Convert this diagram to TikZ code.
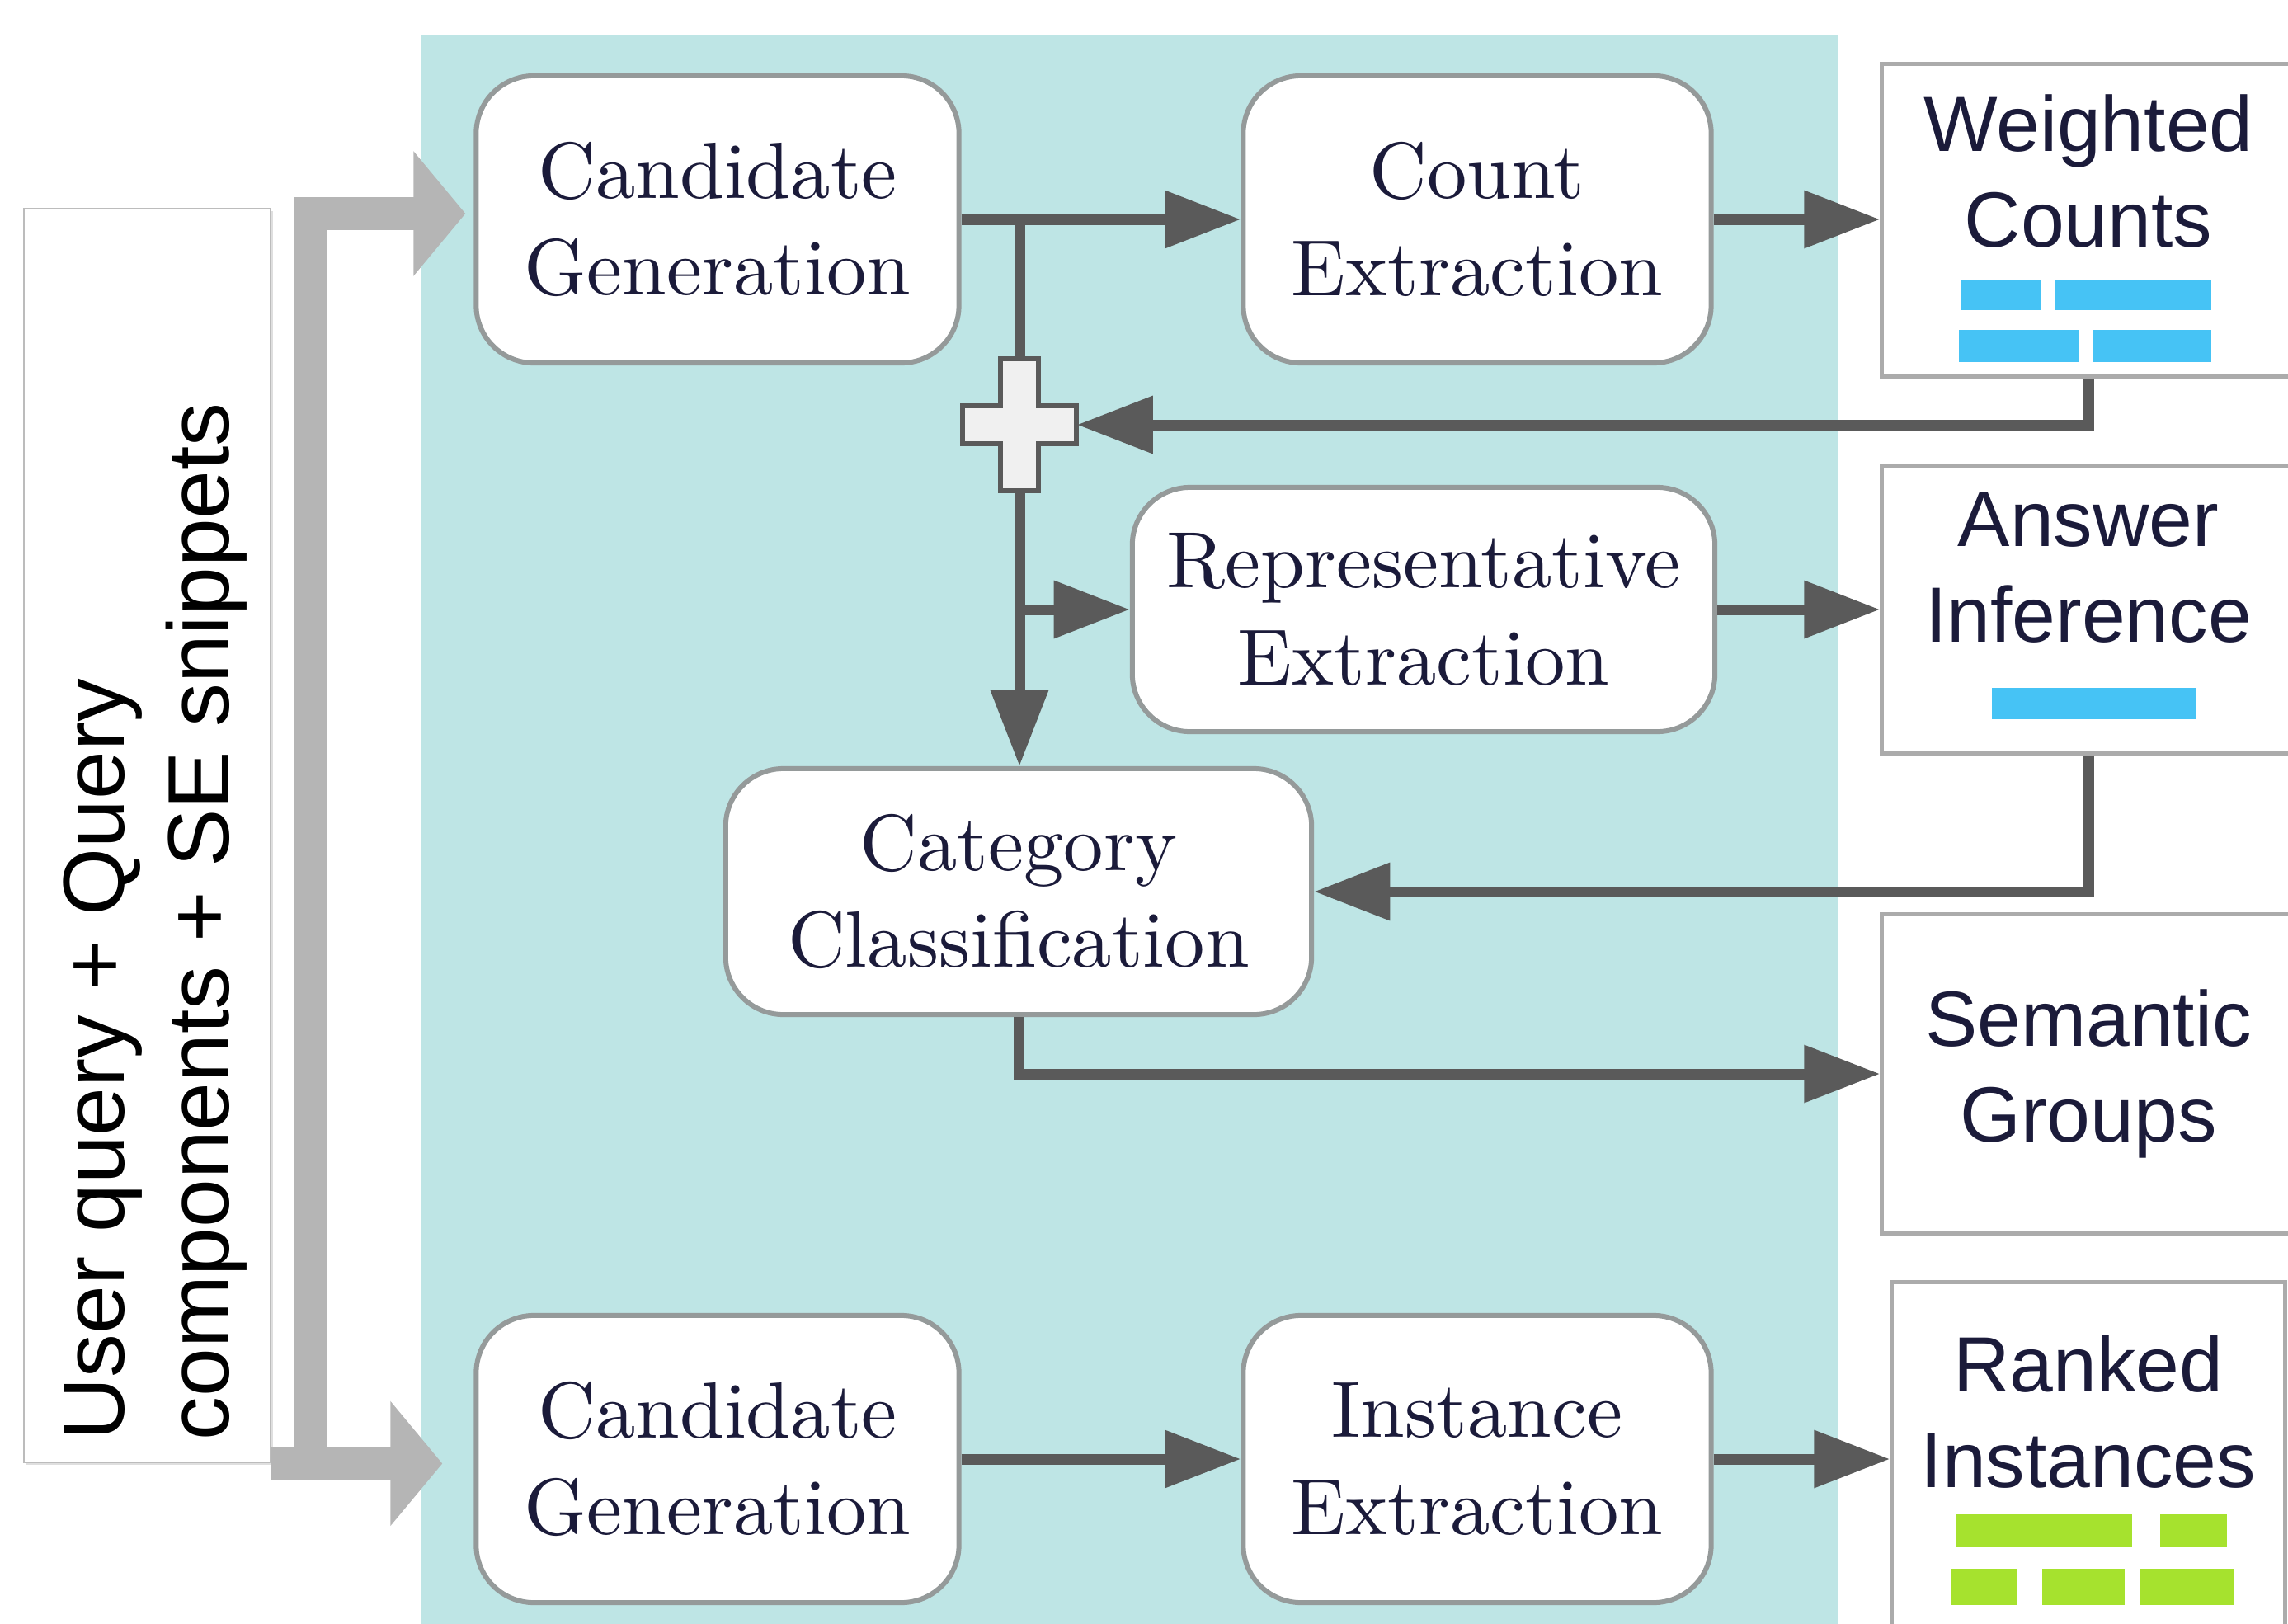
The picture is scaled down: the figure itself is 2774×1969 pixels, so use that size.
\documentclass[tikz,border=0pt]{standalone}
\usepackage{fontspec}
\newfontfamily\arialfont{Liberation Sans}
\newfontfamily\stepfont{lmroman10-regular.otf}
\usetikzlibrary{arrows.meta,shadows}
\definecolor{panel}{HTML}{BEE5E5}
\definecolor{ink}{HTML}{1B1B3A}
\definecolor{wiregray}{HTML}{5A5A5A}
\definecolor{feedgray}{HTML}{B5B5B5}
\definecolor{boxline}{HTML}{959A9A}
\definecolor{outline}{HTML}{ABABAB}
\definecolor{countblue}{HTML}{46C3F5}
\definecolor{rankgreen}{HTML}{A6E22E}
\begin{document}
\begin{tikzpicture}[x=0.01cm,y=-0.01cm,
  >={Triangle[length=0.92cm,width=0.67cm]},
  proc/.style={draw=boxline,line width=0.06cm,fill=white,rounded corners=0.7cm,
    align=center,text=ink,font=\stepfont\fontsize{27.5}{33.5}\selectfont,inner sep=0pt},
  result/.style={draw=outline,line width=0.05cm,fill=white,minimum width=5cm,inner sep=0pt},
  restext/.style={align=center,text=ink,font=\arialfont\fontsize{27}{33}\selectfont,inner sep=0pt},
  wire/.style={draw=wiregray,line width=0.13cm,->},
  feed/.style={draw=feedgray,line width=0.4cm,-{Triangle[length=0.63cm,width=1.48cm]}},
  plussign/.style={draw=wiregray,fill=gray!12,line width=0.06cm}]
  \useasboundingbox (0,0) rectangle (2774,1969);
  \fill[panel] (511,42) rectangle (2229,2000);

  % input
  \node[draw=outline!80,line width=0.02cm,fill=white,minimum width=2.99cm,minimum height=15.2cm,
    drop shadow={shadow xshift=0.03cm,shadow yshift=-0.03cm,opacity=0.25}] (input) at (178.5,1013) {};
  \node[rotate=90,anchor=south west,align=left,inner sep=0pt,
    font=\arialfont\fontsize{30}{36}\selectfont] (inputtext) at (300,1747)
    {User query + Query\\components + SE snippets};

  % processing steps
  \node[proc,minimum width=5.85cm,minimum height=3.48cm] (cg1) at (870,266) {Candidate\\Generation};
  \node[proc,minimum width=5.67cm,minimum height=3.48cm] (count) at (1791,266) {Count\\Extraction};
  \node[proc,minimum width=7.06cm,minimum height=2.96cm] (rep) at (1726,739) {Representative\\Extraction};
  \node[proc,minimum width=7.10cm,minimum height=2.98cm] (cat) at (1235,1081) {Category\\Classification};
  \node[proc,minimum width=5.85cm,minimum height=3.48cm] (cg2) at (870,1769) {Candidate\\Generation};
  \node[proc,minimum width=5.67cm,minimum height=3.48cm] (inst) at (1791,1769) {Instance\\Extraction};

  % results
  \node[result,minimum height=3.78cm] (wc) at (2532,267) {};
  \node[restext] (wctext) at (2532,208) {Weighted\\Counts};
  \node[result,minimum height=3.48cm] (ai) at (2532,739) {};
  \node[restext] (aitext) at (2532,688) {Answer\\Inference};
  \node[result,restext,minimum height=3.86cm] (sg) at (2532,1302) {Semantic\\Groups};
  \node[result,minimum width=4.76cm,minimum height=4.5cm] (ri) at (2532,1780) {};
  \node[restext] (ritext) at (2532,1712) {Ranked\\Instances};

  \foreach \xa/\ya/\xb/\yb in {2378/339/2474/376,2491/339/2681/376,2375/400/2521/439,
      2538/400/2681/439,2415/834/2662/872}
    \fill[countblue] (\xa,\ya) rectangle (\xb,\yb);
  \foreach \xa/\ya/\xb/\yb in {2372/1836/2585/1876,2619/1836/2700/1876,2365/1902/2446/1946,
      2476/1902/2576/1946,2594/1902/2708/1946}
    \fill[rankgreen] (\xa,\ya) rectangle (\xb,\yb);

  % merge point
  \node[minimum width=1.38cm,minimum height=1.61cm,inner sep=0pt] (plus) at (1236,515) {};
  \draw[plussign] (plus.center) ++(-23,-80) -- ++(46,0) -- ++(0,57) -- ++(46,0) -- ++(0,46)
    -- ++(-46,0) -- ++(0,57) -- ++(-46,0) -- ++(0,-57) -- ++(-46,0) -- ++(0,-46) -- ++(46,0) -- cycle;

  % input arrows
  \coordinate (fork) at (376,1773);
  \draw[feed,shorten >=0.1cm] (fork) |- ([yshift=0.07cm]cg1.west);
  \draw[feed,shorten >=0.38cm] (input.south east) -- (input.south east -| cg2.west);

  % connectors
  \coordinate (split) at (cg1.east -| plus);
  \draw[wire] (cg1.east) -- (count.west);
  \draw[wire,-] (split) -- (plus.north);
  \draw[wire] (plus.south) -- (plus.south |- cat.north);
  \draw[wire] (plus.south |- rep.west) -- (rep.west);
  \draw[wire] (count.east) -- (count.east -| wc.west);
  \draw[wire] (wc.south) |- (plus.east);
  \draw[wire] (rep.east) -- (rep.east -| ai.west);
  \draw[wire] (ai.south) |- (cat.east);
  \draw[wire] (cat.south) |- (sg.west);
  \draw[wire] (cg2.east) -- (inst.west);
  \draw[wire] (inst.east) -- (inst.east -| ri.west);
\end{tikzpicture}
\end{document}
